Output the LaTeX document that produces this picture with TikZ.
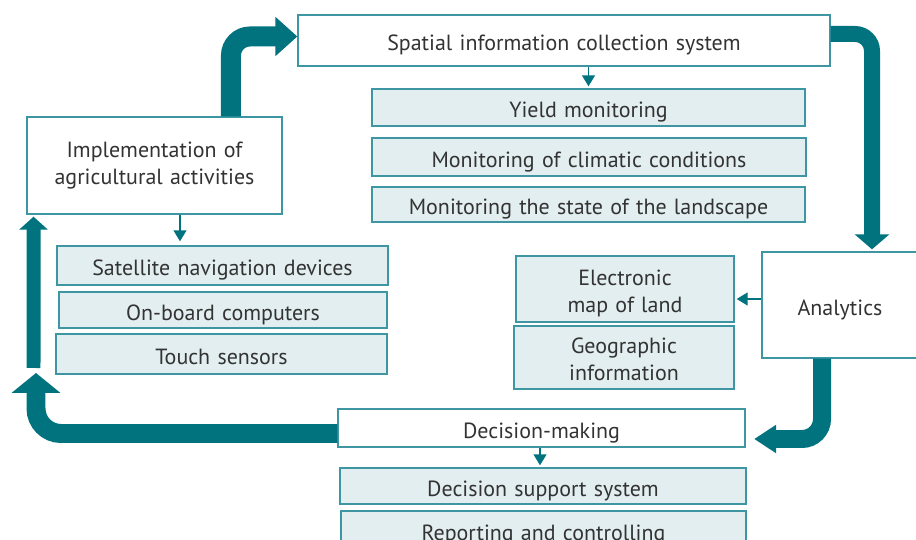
\documentclass[tikz,border=0pt]{standalone}
\usepackage{fontspec}
\setmainfont{PT Sans}
\usetikzlibrary{positioning,arrows.meta}
\definecolor{teal1}{HTML}{00737F}
\definecolor{edge1}{HTML}{3D96A2}
\definecolor{fill1}{HTML}{E2EEF0}
\definecolor{ink1}{HTML}{333333}
\newcommand{\widewords}{\spaceskip=0.33em plus 0.1em\relax}
\tikzset{
    stage/.style = {
        draw=edge1,
        fill=white,
        shape=rectangle,
        align=center,
        text=ink1,
        line width=0.8pt,
        font=\fontsize{12.5}{15.3}\selectfont\widewords
    },
    item/.style = {
        stage,
        fill=fill1
    },
    sunk/.style = {
        text height=11.5pt,
        text depth=0pt
    },
    sunktwo/.style = {
        text height=26.5pt,
        text depth=0pt
    },
    flow/.style = {
        draw=teal1,
        line width=0.8pt,
        -{Triangle[length=0.22cm,width=0.26cm]}
    },
    bigflow/.style = {
        draw=teal1,
        rounded corners=0.38cm
    },
}

\begin{document}
\begin{tikzpicture}[x=0.02cm,y=-0.02cm]
                \useasboundingbox (0,0) rectangle (916,540);

                % main stages
                \node[stage,sunk,minimum width=10.64cm,minimum height=1.02cm] (spatial) at (564,40.5) {Spatial information collection system};
                \node[stage,minimum width=5.10cm,minimum height=1.94cm] (impl) at (154.5,165.5) {Implementation of\\agricultural activities};
                \node[stage,sunk,minimum width=3.12cm,minimum height=2.12cm] (analytics) at (840,305) {Analytics};
                \node[stage,sunk,minimum width=8.14cm,minimum height=0.76cm] (decision) at (541.5,428) {Decision-making};

                % tools of each stage
                \node[item,sunk,minimum width=8.66cm,minimum height=0.74cm] (yield) at (588.5,107.5) {Yield monitoring};
                \node[item,sunk,minimum width=8.68cm,minimum height=0.76cm] (climate) at (589,157) {Monitoring of climatic conditions};
                \node[item,sunk,minimum width=8.66cm,minimum height=0.70cm] (landscape) at (588.5,204.5) {Monitoring the state of the landscape};
                \node[item,sunk,minimum width=6.62cm,minimum height=0.78cm] (satnav) at (222.5,265.5) {Satellite navigation devices};
                \node[item,sunk,minimum width=6.56cm,minimum height=0.72cm] (onboard) at (223,310) {On-board computers};
                \node[item,sunk,minimum width=6.62cm,minimum height=0.80cm] (touch) at (221.5,354) {Touch sensors};
                \node[item,sunktwo,minimum width=4.36cm,minimum height=1.32cm] (elmap) at (625,289) {Electronic\\map of land};
                \node[item,sunktwo,minimum width=4.40cm,minimum height=1.26cm] (geo) at (624,357.5) {Geographic\\information};
                \node[item,sunk,minimum width=8.12cm,minimum height=0.72cm] (dss) at (543,486) {Decision support system};
                \node[item,sunk,minimum width=8.10cm,minimum height=0.76cm] (report) at (543.5,530) {Reporting and controlling};

                \coordinate (upturn) at (36,373);
                \coordinate (upfoot) at (33.5,368);

                % the big cycle
                \path[bigflow, line width=0.40cm, -{Triangle[length=0.44cm,width=0.76cm]}] ([xshift=1.53cm]impl.north) |- ([yshift=0.08cm]spatial.west);
                \path[bigflow, line width=0.32cm, rounded corners=0.34cm, -{Triangle[length=0.30cm,width=0.68cm]}] ([yshift=0.13cm]spatial.east) -| ([xshift=0.64cm,yshift=0.04cm]analytics.north);
                \path[bigflow, line width=0.36cm, rounded corners=0.40cm, -{Triangle[length=0.44cm,width=0.54cm]}] ([xshift=-0.36cm]analytics.south) |- ([xshift=0.17cm,yshift=-0.22cm]decision.east);
                \path[bigflow, line width=0.38cm, rounded corners=0.50cm, -{Triangle[length=0.40cm,width=0.96cm]}] ([yshift=-0.11cm]decision.west) -| (upturn);
                \path[bigflow, line width=0.28cm, -{Triangle[length=0.26cm,width=0.56cm]}] (upfoot) -- ([xshift=-2.42cm,yshift=-0.04cm]impl.south);

                % thin links to the tools
                \path[flow] (yield.north |- spatial.south) -- ([yshift=0.04cm]yield.north);
                \path[flow] ([xshift=0.51cm]impl.south) -- ([xshift=0.51cm,yshift=0.08cm]impl.south |- satnav.north);
                \path[flow] ([yshift=0.12cm]analytics.west) -- ([xshift=0.04cm,yshift=0.12cm]analytics.west -| elmap.east);
                \path[flow] ([xshift=-0.06cm]dss.north |- decision.south) -- ([xshift=-0.06cm,yshift=0.04cm]dss.north);
            \end{tikzpicture}
\end{document}
